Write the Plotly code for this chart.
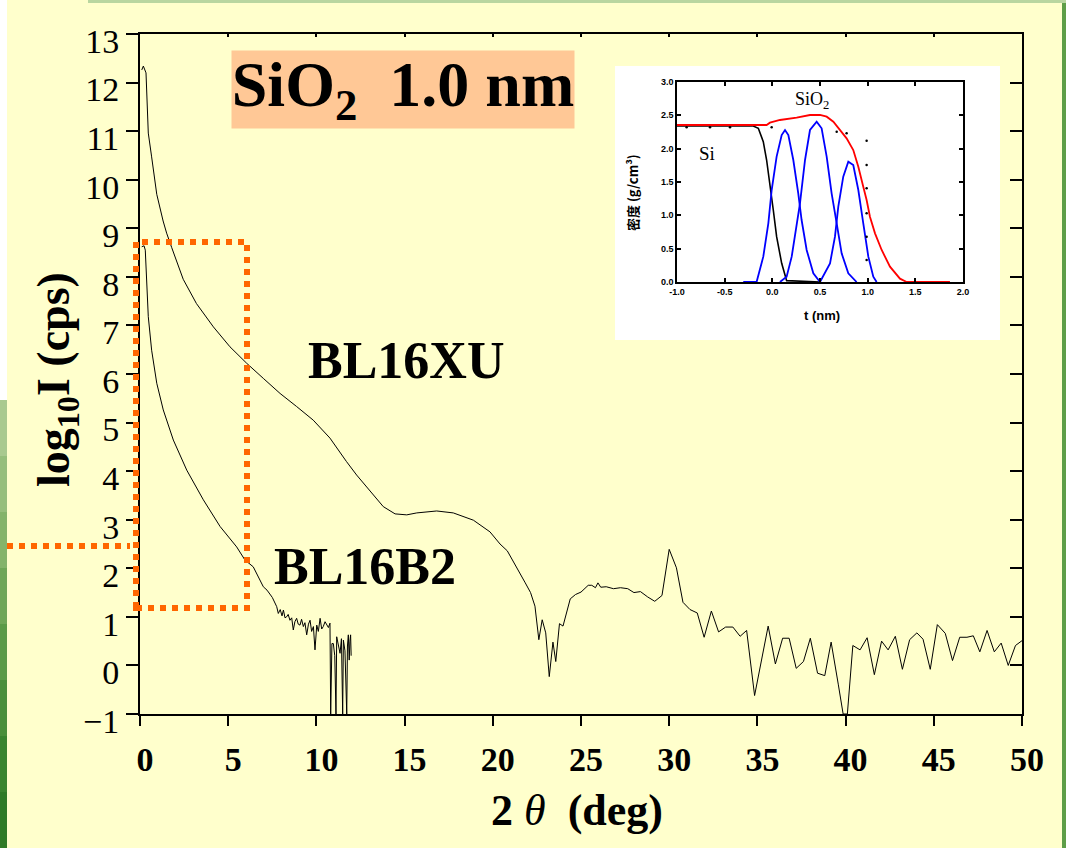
import plotly.graph_objects as go

# ---------------- data ----------------
bl16xu_x = [0.10, 0.19, 0.34, 0.40, 0.47, 0.66, 0.95, 1.31, 1.51, 1.80, 2.45, 3.20, 4.16, 5.10,
            6.05, 6.99, 7.94, 8.88, 9.82, 10.77, 11.34, 11.70, 12.28, 13.23, 13.79, 14.46, 15.12,
            15.69, 16.82, 17.76, 18.90, 19.84, 20.41, 20.82, 21.43, 21.84, 22.14, 22.39, 22.61,
            22.80, 23.00, 23.20, 23.41, 23.57, 23.78, 23.98, 24.39, 24.69, 25.00, 25.41, 25.61,
            25.82, 25.96, 26.12, 26.43, 26.84, 27.24, 27.65, 28.00, 28.37, 28.78, 29.18, 29.59,
            30.00, 30.41, 30.78, 31.18, 31.59, 31.98, 32.39, 32.80, 33.20, 33.61, 34.02, 34.39,
            34.84, 35.61, 36.02, 36.43, 36.80, 37.20, 37.61, 38.00, 38.41, 38.82, 39.18, 39.59,
            39.86, 40.10, 40.41, 40.82, 41.22, 41.63, 42.04, 42.41, 42.82, 43.22, 43.63, 44.04,
            44.39, 44.80, 45.20, 45.65, 46.06, 46.47, 46.88, 47.24, 47.61, 48.02, 48.43, 48.82,
            49.22, 49.63, 50.00]
bl16xu_y = [12.26, 12.34, 12.20, 11.60, 10.96, 10.47, 9.70, 9.15, 8.90, 8.60, 7.95, 7.45, 6.97, 6.56,
            6.22, 5.91, 5.60, 5.33, 5.05, 4.68, 4.37, 4.20, 3.92, 3.51, 3.27, 3.12, 3.10,
            3.14, 3.18, 3.14, 2.99, 2.75, 2.50, 2.36, 1.98, 1.70, 1.50, 1.22, 0.53,
            0.94, 0.67, -0.23, 0.48, 0.08, 0.86, 0.81, 1.37, 1.46, 1.51, 1.65, 1.65,
            1.60, 1.70, 1.61, 1.62, 1.58, 1.60, 1.58, 1.50, 1.52, 1.41, 1.32, 1.44,
            2.39, 2.01, 1.30, 1.15, 1.08, 0.58, 1.12, 0.69, 0.79, 0.79, 0.60, 0.72,
            -0.62, 0.81, 0.03, 0.56, 0.56, -0.06, 0.08, 0.56, -0.16, -0.21, 0.48, -0.40,
            -1.00, -1.00, 0.41, 0.32, 0.57, -0.19, 0.50, 0.32, 0.60, -0.08, 0.53, 0.67,
            0.54, -0.08, 0.84, 0.66, 0.10, 0.58, 0.58, 0.61, 0.28, 0.72, 0.28, 0.46,
            0.00, 0.41, 0.51]

bl16b2_x = [0.10, 0.23, 0.30, 0.38, 0.47, 0.66, 0.95, 1.32, 1.89, 2.65, 3.59, 4.54, 5.48, 5.95,
            6.42, 6.99, 7.20, 7.50, 7.75, 7.84, 7.95, 8.05, 8.13, 8.22, 8.31, 8.40, 8.50, 8.60,
            8.69, 8.78, 8.88, 8.97, 9.07, 9.16, 9.26, 9.35, 9.45, 9.55, 9.64, 9.73, 9.83, 9.92,
            10.02, 10.11, 10.21, 10.30, 10.39, 10.49, 10.58, 10.68, 10.77, 10.81, 10.88, 10.96,
            11.04, 11.11, 11.15, 11.25, 11.34, 11.42, 11.49, 11.53, 11.62, 11.72, 11.76, 11.81,
            11.86, 11.90, 11.94, 11.97]
bl16b2_y = [8.62, 8.64, 8.55, 7.87, 7.18, 6.49, 5.81, 5.26, 4.64, 4.02, 3.41, 2.86, 2.44, 2.17,
            2.03, 1.62, 1.55, 1.40, 1.21, 1.07, 1.15, 1.02, 1.14, 0.98, 1.00, 1.05, 0.93, 0.98,
            0.73, 0.90, 0.97, 0.85, 0.83, 0.95, 0.80, 0.88, 0.63, 0.85, 0.93, 0.70, 0.80, 0.32,
            0.83, 0.70, 0.97, 0.75, 0.80, 0.90, 0.83, 0.78, 0.87, -1.00, 0.45, 0.45,
            0.20, -1.00, 0.59, 0.40, 0.25, 0.55, -1.00, 0.52, 0.30, -1.00, 0.40, 0.63,
            0.11, 0.50, 0.63, 0.20]

x_ticks = [0, 5, 10, 15, 20, 25, 30, 35, 40, 45, 50]
y_ticks = [-1, 0, 1, 2, 3, 4, 5, 6, 7, 8, 9, 10, 11, 12, 13]

# inset (density profile)
inset_red_t = [-1.00, -0.06, -0.025, 0.08, 0.255, 0.395, 0.50, 0.57, 0.64, 0.71, 0.779, 0.849,
               0.902, 0.954, 0.989, 1.024, 1.077, 1.147, 1.234, 1.339, 1.409, 1.863]
inset_red_d = [2.355, 2.355, 2.39, 2.43, 2.465, 2.505, 2.505, 2.48, 2.405, 2.28, 2.155, 1.98,
               1.73, 1.43, 1.23, 0.98, 0.73, 0.48, 0.23, 0.05, 0.0, 0.0]
inset_si_t = [-1.00, -0.20, -0.147, -0.095, -0.06, -0.025, 0.01, 0.045, 0.098, 0.15, 0.50]
inset_si_d = [2.34, 2.34, 2.305, 2.105, 1.83, 1.48, 1.08, 0.68, 0.28, 0.02, 0.0]
inset_p1_t = [-0.305, -0.165, -0.095, -0.042, -0.007, 0.045, 0.098, 0.133, 0.168, 0.220, 0.272,
              0.307, 0.360, 0.430, 0.500]
inset_p1_d = [0.0, 0.0, 0.38, 0.88, 1.38, 1.88, 2.205, 2.28, 2.205, 1.83, 1.33, 0.93, 0.48, 0.13, 0.0]
inset_p2_t = [0.080, 0.150, 0.203, 0.255, 0.290, 0.343, 0.395, 0.465, 0.517, 0.570, 0.622, 0.675,
              0.727, 0.797, 0.884]
inset_p2_d = [0.0, 0.08, 0.38, 0.83, 1.18, 1.83, 2.28, 2.405, 2.305, 1.88, 1.33, 0.88, 0.43, 0.13, 0.0]
inset_p3_t = [0.500, 0.605, 0.657, 0.692, 0.744, 0.797, 0.849, 0.902, 0.954, 1.007, 1.059, 1.094]
inset_p3_d = [0.0, 0.28, 0.68, 1.13, 1.58, 1.805, 1.755, 1.38, 0.88, 0.38, 0.08, 0.0]
inset_dot_t = [-0.899, -0.654, -0.444, -0.007, 0.675, 0.779, 0.989, 0.989, 0.989, 0.989, 0.989, 0.989]
inset_dot_d = [2.32, 2.32, 2.32, 2.32, 2.255, 2.23, 2.12, 1.755, 1.405, 1.03, 0.68, 0.33]
inset_x_ticks = [-1.0, -0.5, 0.0, 0.5, 1.0, 1.5, 2.0]
inset_y_ticks = [0.0, 0.5, 1.0, 1.5, 2.0, 2.5, 3.0]

# ---------------- layout geometry helpers ----------------
W, H = 1066, 848
L, R, T, B = 140, 1022, 34, 714


def px(xp):
    return (xp - L) / (R - L)


def py(yp):
    return (B - yp) / (B - T)


SERIF = "Liberation Serif"
BG = "#FFFFCC"

fig = go.Figure()

fig.add_trace(go.Scatter(x=bl16xu_x, y=bl16xu_y, mode="lines",
                         line=dict(color="black", width=1), showlegend=False,
                         hoverinfo="skip"))
fig.add_trace(go.Scatter(x=bl16b2_x, y=bl16b2_y, mode="lines",
                         line=dict(color="black", width=1), showlegend=False,
                         hoverinfo="skip"))
# mirror axes holder
fig.add_trace(go.Scatter(x=[], y=[], xaxis="x2", yaxis="y2", showlegend=False, hoverinfo="skip"))

# inset traces
fig.add_trace(go.Scatter(x=inset_si_t, y=inset_si_d, xaxis="x3", yaxis="y3", mode="lines",
                         line=dict(color="black", width=1.6), showlegend=False, hoverinfo="skip"))
for tt, dd in [(inset_p1_t, inset_p1_d), (inset_p2_t, inset_p2_d), (inset_p3_t, inset_p3_d)]:
    fig.add_trace(go.Scatter(x=tt, y=dd, xaxis="x3", yaxis="y3", mode="lines",
                             line=dict(color="#0000FF", width=1.8), showlegend=False,
                             hoverinfo="skip"))
fig.add_trace(go.Scatter(x=inset_red_t, y=inset_red_d, xaxis="x3", yaxis="y3", mode="lines",
                         line=dict(color="#FF0000", width=1.8), showlegend=False, hoverinfo="skip"))
fig.add_trace(go.Scatter(x=inset_dot_t, y=inset_dot_d, xaxis="x3", yaxis="y3", mode="markers",
                         marker=dict(color="black", size=2.5), showlegend=False, hoverinfo="skip"))

axis_common = dict(showgrid=False, zeroline=False, showline=True, linecolor="black",
                   linewidth=2, tickcolor="black", tickwidth=2)

shapes = []
# page decorations
shapes.append(dict(type="rect", xref="paper", yref="paper", x0=px(0), x1=px(7), y0=py(0), y1=py(400),
                   fillcolor="#FFFFFF", line=dict(width=0), layer="below"))
greens = ["#A9C98F", "#96BE7C", "#84B36A", "#6FA657", "#5B9A47", "#4A8F3A", "#3A842F", "#2F7A27"]
for i, g in enumerate(greens):
    y0p = 400 + i * (448 / len(greens))
    y1p = 400 + (i + 1) * (448 / len(greens))
    shapes.append(dict(type="rect", xref="paper", yref="paper", x0=px(0), x1=px(7),
                       y0=py(y0p), y1=py(y1p), fillcolor=g, line=dict(width=0), layer="below"))
shapes.append(dict(type="rect", xref="paper", yref="paper", x0=px(1062), x1=px(1066), y0=py(0),
                   y1=py(848), fillcolor="#5E9E48", line=dict(width=0), layer="below"))
shapes.append(dict(type="rect", xref="paper", yref="paper", x0=px(88), x1=px(1066), y0=py(0),
                   y1=py(3), fillcolor="#B9D6A0", line=dict(width=0), layer="below"))
# inset white panel
shapes.append(dict(type="rect", xref="paper", yref="paper", x0=px(615), x1=px(1000), y0=py(340),
                   y1=py(66), fillcolor="#FFFFFF", line=dict(width=0), layer="below"))
# orange dotted highlight
orange = dict(color="#FF6600", width=6, dash="6px,6px")
shapes.append(dict(type="rect", xref="paper", yref="paper", x0=px(136), x1=px(247), y0=py(608),
                   y1=py(242), line=orange, fillcolor="rgba(0,0,0,0)", layer="above"))
shapes.append(dict(type="line", xref="paper", yref="paper", x0=px(7), x1=px(130), y0=py(546),
                   y1=py(546), line=orange, layer="above"))

annotations = [
    dict(text="<b>SiO<sub>2</sub>\u00a0\u00a01.0 nm</b>", xref="paper", yref="paper",
         x=px(231), y=py(50), xanchor="left", yanchor="top", width=342, height=77,
         bgcolor="#FFC896", borderpad=0, showarrow=False, align="center", valign="middle",
         font=dict(family=SERIF, size=64, color="black")),
    dict(text="<b>BL16XU</b>", xref="paper", yref="paper", x=px(406), y=py(360),
         xanchor="center", yanchor="middle", showarrow=False,
         font=dict(family=SERIF, size=52, color="black")),
    dict(text="<b>BL16B2</b>", xref="paper", yref="paper", x=px(365), y=py(566),
         xanchor="center", yanchor="middle", showarrow=False,
         font=dict(family=SERIF, size=52, color="black")),
    dict(text="<b>log<sub>10</sub>I (cps)</b>", xref="paper", yref="paper", x=px(57), y=py(380),
         xanchor="center", yanchor="middle", textangle=-90, showarrow=False,
         font=dict(family=SERIF, size=46, color="black")),
    dict(text="<b>2</b> <i>θ</i>\u00a0\u00a0<b>(deg)</b>", xref="paper", yref="paper",
         x=px(577), y=py(810), xanchor="center", yanchor="middle", showarrow=False,
         font=dict(family=SERIF, size=44, color="black")),
    # inset labels
    dict(text="SiO<sub>2</sub>", xref="paper", yref="paper", x=px(812), y=py(101),
         xanchor="center", yanchor="middle", showarrow=False,
         font=dict(family=SERIF, size=18, color="black")),
    dict(text="Si", xref="paper", yref="paper", x=px(707), y=py(153),
         xanchor="center", yanchor="middle", showarrow=False,
         font=dict(family=SERIF, size=19, color="black")),
    dict(text="<b>密度 (g/cm³)</b>", xref="paper", yref="paper", x=px(633), y=py(193),
         xanchor="center", yanchor="middle", textangle=-90, showarrow=False,
         font=dict(family="Noto Sans CJK JP", size=13, color="black")),
    dict(text="<b>t (nm)</b>", xref="paper", yref="paper", x=px(822), y=py(315),
         xanchor="center", yanchor="middle", showarrow=False,
         font=dict(family="Liberation Sans", size=13, color="black")),
]

fig.update_layout(
    width=W, height=H,
    margin=dict(l=L, r=W - R, t=T, b=H - B, autoexpand=False),
    paper_bgcolor=BG, plot_bgcolor="rgba(0,0,0,0)",
    showlegend=False,
    xaxis=dict(range=[0, 50], tickmode="array", tickvals=x_ticks, ticks="outside", ticklen=10,
               tickfont=dict(family=SERIF, size=34, color="black", weight="bold"),
               ticklabelstandoff=4, ticklabelshift=5, domain=[0, 1], anchor="y", **axis_common),
    yaxis=dict(range=[-1, 13], tickmode="array", tickvals=y_ticks, ticks="outside", ticklen=12,
               tickfont=dict(family=SERIF, size=34, color="black"), domain=[0, 1], anchor="x",
               ticklabelstandoff=0, ticklabelshift=7, **axis_common),
    xaxis2=dict(range=[0, 50], overlaying="x", side="top", anchor="y2", tickvals=x_ticks,
                ticks="inside", ticklen=3, showticklabels=False, **axis_common),
    yaxis2=dict(range=[-1, 13], overlaying="y", side="right", anchor="x2", tickvals=y_ticks,
                ticks="inside", ticklen=12, showticklabels=False, **axis_common),
    xaxis3=dict(domain=[px(677), px(963)], anchor="y3", range=[-1.0, 2.0], tickvals=inset_x_ticks,
                ticktext=["-1.0", "-0.5", "0.0", "0.5", "1.0", "1.5", "2.0"],
                ticks="inside", ticklen=4, mirror="ticks", showgrid=False, zeroline=False,
                showline=True, linecolor="black", linewidth=1.5, tickcolor="black", tickwidth=1.5,
                tickfont=dict(family="Liberation Sans", size=9, color="black", weight="bold")),
    yaxis3=dict(domain=[py(282), py(82)], anchor="x3", range=[0, 3.0], tickvals=inset_y_ticks,
                ticktext=["0.0", "0.5", "1.0", "1.5", "2.0", "2.5", "3.0"],
                ticks="inside", ticklen=4, mirror="ticks", showgrid=False, zeroline=False,
                showline=True, linecolor="black", linewidth=1.5, tickcolor="black", tickwidth=1.5,
                tickfont=dict(family="Liberation Sans", size=9, color="black", weight="bold")),
    shapes=shapes,
    annotations=annotations,
)

fig.write_html("out.html")
